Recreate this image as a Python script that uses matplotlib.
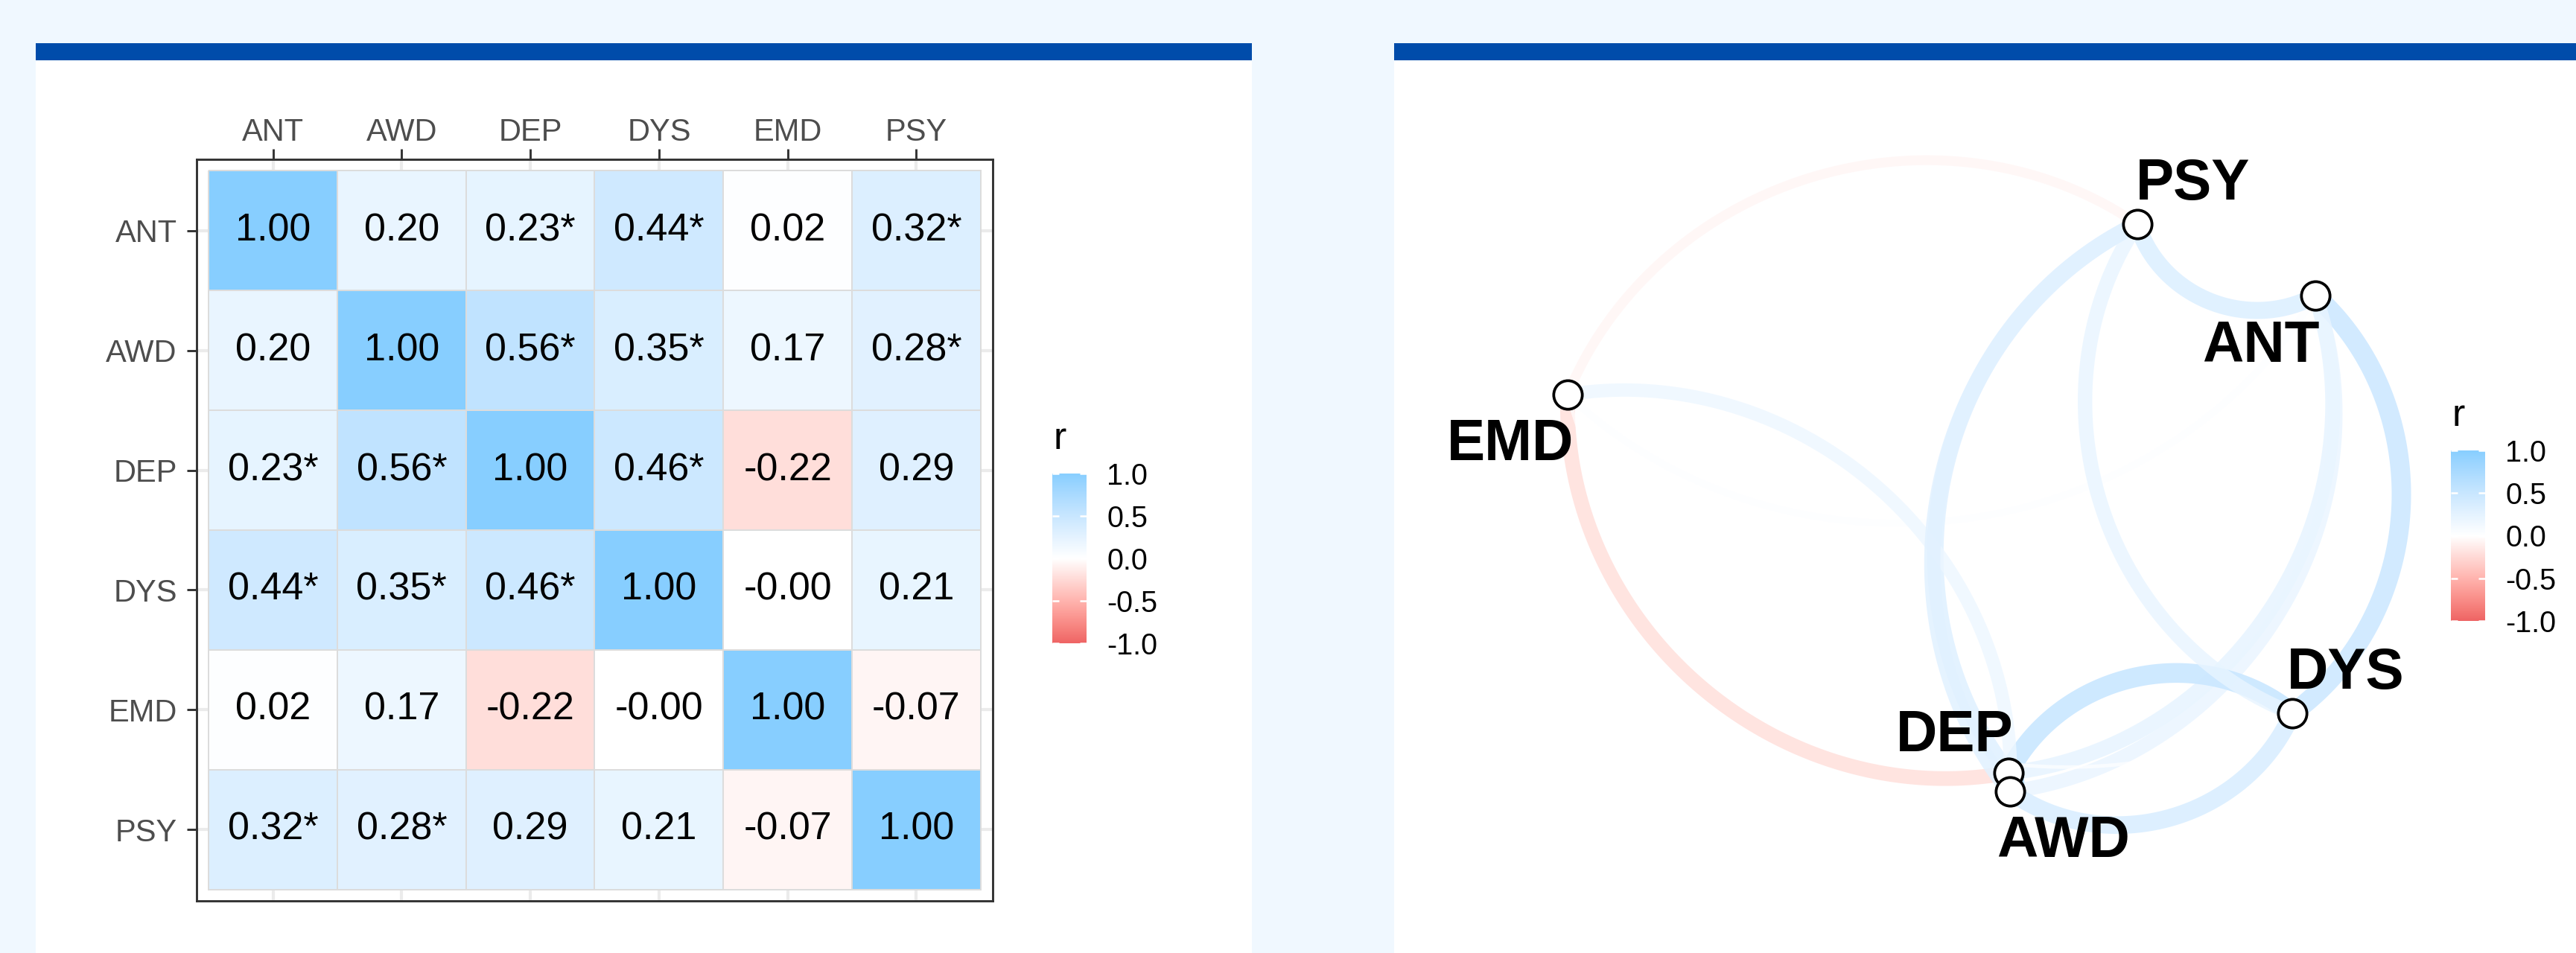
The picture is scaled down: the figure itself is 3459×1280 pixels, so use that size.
import numpy as np
import matplotlib
matplotlib.use("Agg")
import matplotlib.pyplot as plt
from matplotlib.colors import ListedColormap, Normalize, to_rgb
from matplotlib.patches import Rectangle
from matplotlib.cm import ScalarMappable

plt.rcParams['font.family'] = ['Liberation Sans', 'DejaVu Sans']

# ---------------- data ----------------
variables = ['ANT', 'AWD', 'DEP', 'DYS', 'EMD', 'PSY']
r_matrix = [
    [1.00, 0.20, 0.23, 0.44, 0.02, 0.32],
    [0.20, 1.00, 0.56, 0.35, 0.17, 0.28],
    [0.23, 0.56, 1.00, 0.46, -0.22, 0.29],
    [0.44, 0.35, 0.46, 1.00, -0.001, 0.21],
    [0.02, 0.17, -0.22, -0.001, 1.00, -0.07],
    [0.32, 0.28, 0.29, 0.21, -0.07, 1.00],
]
significant = [
    [False, False, True, True, False, True],
    [False, False, True, True, False, True],
    [True, True, False, True, False, False],
    [True, True, True, False, False, False],
    [False, False, False, False, False, False],
    [True, True, False, False, False, False],
]
legend_breaks = [-1.0, -0.5, 0.0, 0.5, 1.0]
legend_labels = ['-1.0', '-0.5', '0.0', '0.5', '1.0']

# network: column order of the source table (sets curve direction) and MDS layout
network_order = ['ANT', 'DEP', 'DYS', 'EMD', 'AWD', 'PSY']
layout_x = {'ANT': 0.509, 'AWD': 0.099, 'DEP': 0.097, 'DYS': 0.478, 'EMD': -0.495, 'PSY': 0.270}
layout_y = {'ANT': 0.284, 'AWD': -0.382, 'DEP': -0.357, 'DYS': -0.277, 'EMD': 0.151, 'PSY': 0.380}

gradient_colours = ['#EE6363', '#FFFFFF', '#87CEFF']   # indianred2, white, skyblue1

# ---------------- colour scale (CIELAB interpolation like ggplot) ----------------
_M = np.array([[0.4124, 0.3576, 0.1805], [0.2126, 0.7152, 0.0722], [0.0193, 0.1192, 0.9505]])
_WP = np.array([0.95047, 1.0, 1.08883])


def srgb_to_lab(rgb):
    c = np.asarray(rgb, float)
    lin = np.where(c <= 0.04045, c / 12.92, ((c + 0.055) / 1.055) ** 2.4)
    t = (_M @ lin) / _WP
    f = np.where(t > (6 / 29) ** 3, np.cbrt(t), t / (3 * (6 / 29) ** 2) + 4 / 29)
    return np.array([116 * f[1] - 16, 500 * (f[0] - f[1]), 200 * (f[1] - f[2])])


def lab_to_srgb(lab):
    L, a, b = lab
    fy_ = (L + 16) / 116
    f = np.array([fy_ + a / 500, fy_, fy_ - b / 200])
    t = np.where(f > 6 / 29, f ** 3, 3 * (6 / 29) ** 2 * (f - 4 / 29))
    lin = np.clip(np.linalg.inv(_M) @ (t * _WP), 0, 1)
    c = np.where(lin <= 0.0031308, 12.92 * lin, 1.055 * lin ** (1 / 2.4) - 0.055)
    return np.clip(c, 0, 1)


labs = [srgb_to_lab(to_rgb(c)) for c in gradient_colours]
ramp = []
for t in np.linspace(0, 1, 512):
    if t < 0.5:
        s = t / 0.5
        lab = labs[0] * (1 - s) + labs[1] * s
    else:
        s = (t - 0.5) / 0.5
        lab = labs[1] * (1 - s) + labs[2] * s
    ramp.append(lab_to_srgb(lab))
cmap = ListedColormap(ramp)
norm = Normalize(-1, 1)

# ---------------- figure ----------------
W, H = 3459, 1280
fig = plt.figure(figsize=(W / 300, H / 300), dpi=300, facecolor='#F0F8FF')


def box(x0, y0, x1, y1):
    return [x0 / W, 1 - y1 / H, (x1 - x0) / W, (y1 - y0) / H]


def rect(x0, y0, x1, y1, color):
    b = box(x0, y0, x1, y1)
    fig.add_artist(Rectangle((b[0], b[1]), b[2], b[3], transform=fig.transFigure,
                             facecolor=color, edgecolor='none', zorder=-5))


rect(48, 81, 1681, 1280, 'white')
rect(48, 58, 1681, 81, '#004CAA')
rect(1872, 81, 3459, 1280, 'white')
rect(1872, 58, 3459, 81, '#004CAA')

# ---------------- heatmap ----------------
ax = fig.add_axes(box(264, 214, 1333, 1210))
ax.set_facecolor('white')
n = len(variables)
C = np.array(r_matrix)
edges = np.arange(n + 1) - 0.5
ax.pcolormesh(edges, edges, C, cmap=cmap, norm=norm, edgecolors='#DCDCDC',
              linewidth=0.4, zorder=2)
pad = 0.094
ax.set_xlim(-0.5 - pad, n - 0.5 + pad)
ax.set_ylim(n - 0.5 + pad, -0.5 - pad)
ax.set_xticks(range(n))
ax.set_xticklabels(variables)
ax.set_yticks(range(n))
ax.set_yticklabels(variables)
ax.xaxis.tick_top()
ax.tick_params(axis='x', length=3.4, width=0.7, color='#333333', labelcolor='#4D4D4D',
               labelsize=10, pad=0.5)
ax.tick_params(axis='y', length=3.2, width=0.7, color='#333333', labelcolor='#4D4D4D',
               labelsize=10, pad=3.1)
ax.grid(True, color='#EBEBEB', linewidth=1.0, zorder=0)
ax.set_axisbelow(True)
for sp in ax.spines.values():
    sp.set_color('#333333')
    sp.set_linewidth(0.7)
for i in range(n):
    for j in range(n):
        lab = f"{r_matrix[i][j]:.2f}" + ("*" if significant[i][j] else "")
        ax.text(j, i, lab, ha='center', va='center', fontsize=12.5, color='black', zorder=3)


def colourbar(x0, y0, x1, y1, tx, ty):
    cax = fig.add_axes(box(x0, y0, x1, y1))
    cb = fig.colorbar(ScalarMappable(norm=norm, cmap=cmap), cax=cax, ticks=legend_breaks)
    cb.outline.set_visible(False)
    cax.set_yticklabels(legend_labels)
    cax.tick_params(direction='in', length=2.2, width=0.6, color='white', left=True,
                    right=True, labelsize=9.5, pad=6.5, labelcolor='black')
    fig.text(tx / W, 1 - ty / H, 'r', fontsize=12.5, ha='left', va='baseline')


colourbar(1413, 636, 1459, 864, 1415, 603)

# ---------------- network ----------------
nax = fig.add_axes(box(1872, 81, 3459, 1280))
nax.set_xlim(-0.728, 0.859)
nax.set_ylim(-0.599, 0.600)
nax.axis('off')

idx = {v: k for k, v in enumerate(variables)}
pairs = []
for i in range(len(network_order)):
    for j in range(i + 1, len(network_order)):
        a, b = network_order[i], network_order[j]
        pairs.append((a, b, r_matrix[idx[a]][idx[b]]))
absr = np.array([abs(p[2]) for p in pairs])
vmin, vmax = absr.min(), absr.max()


def curve_points(p1, p2, sag_factor=0.93, npts=120):
    p1 = np.asarray(p1)
    p2 = np.asarray(p2)
    d = p2 - p1
    L = np.hypot(*d)
    m = (p1 + p2) / 2
    nrm = np.array([-d[1], d[0]]) / L          # left of travel direction
    c = m - nrm * 0.375 * L
    v1 = p1 - c
    v2 = p2 - c
    span = np.arctan2(v1[0] * v2[1] - v1[1] * v2[0], v1 @ v2)
    th = np.linspace(0, span, npts)
    pts = np.stack([c[0] + v1[0] * np.cos(th) - v1[1] * np.sin(th),
                    c[1] + v1[0] * np.sin(th) + v1[1] * np.cos(th)], axis=1)
    rel = pts - m
    along = rel @ (d / L)
    perp = rel @ nrm
    return m + np.outer(along, d / L) + np.outer(perp * sag_factor, nrm)


for a, b, r in pairs:
    v = abs(r)
    s = (v - vmin) / (vmax - vmin)
    alpha = 0.7 + 0.3 * s
    lw = 1.15 * (1 + 5 * np.sqrt(s))
    pts = curve_points((layout_x[a], layout_y[a]), (layout_x[b], layout_y[b]))
    nax.plot(pts[:, 0], pts[:, 1], color=cmap(norm(r)), alpha=alpha, lw=lw,
             solid_capstyle='butt', zorder=2)

label_offsets = {'PSY': (17.9, 7.9), 'ANT': (-17.5, -21.4), 'EMD': (-18.5, -21.1),
                 'DEP': (-17.4, 7.0), 'AWD': (17.2, -21.1), 'DYS': (17.3, 7.9)}
node_draw_order = ['ANT', 'DEP', 'AWD', 'DYS', 'EMD', 'PSY']
for v in node_draw_order:
    nax.plot(layout_x[v], layout_y[v], 'o', ms=9.2, mfc='white', mec='black', mew=0.9, zorder=5)
for v in node_draw_order:
    nax.annotate(v, (layout_x[v], layout_y[v]), xytext=label_offsets[v],
                 textcoords='offset points', ha='center', va='baseline',
                 fontsize=18.4, fontweight='bold', color='black', zorder=6)

colourbar(3291, 605, 3337, 834, 3293, 572)

fig.savefig('out.png', dpi=300, facecolor=fig.get_facecolor())
